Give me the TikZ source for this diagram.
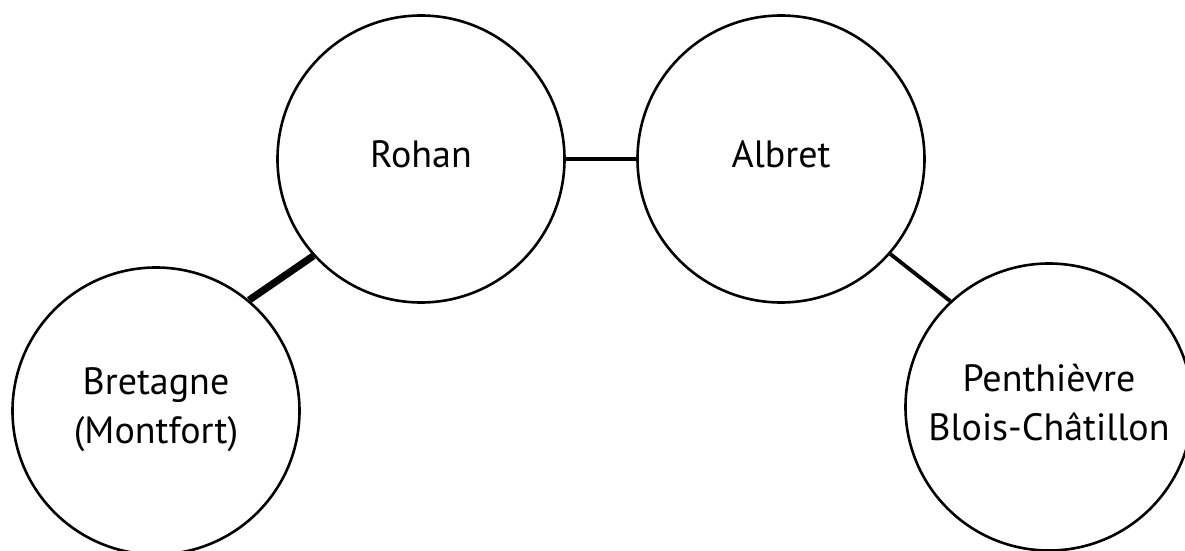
\documentclass[tikz,border=0pt]{standalone}
\usepackage{fontspec}
\setmainfont{PT Sans}
\usepackage{tikz}
\usetikzlibrary{positioning}
\newcommand{\housefont}{\fontsize{19}{24.5}\selectfont}
\tikzset{
    %Define style for houses
    house/.style={
           circle,
           draw=black, line width=1.3pt,
           minimum size=143.5pt,
           inner sep=0pt,
           text depth=5pt,
           font=\housefont,
           align=center},
    % Define styles for ties
    tie/.style={
           draw=black,
           line width=2.3pt},
    strongtie/.style={
           draw=black,
           line width=3.6pt},
    weaktie/.style={
           draw=black,
           line width=1.9pt}
}
\begin{document}
\begin{tikzpicture}[x=0.5pt,y=-0.5pt]
\useasboundingbox (0,0) rectangle (1185,551);
\clip (0,0) rectangle (1185,551);
\node[house](rohan) at (421,159){Rohan};
\node[house](albret) at (781,159){Albret};
\node[house](bretagne) at (156,411){Bretagne\\(Montfort)};
\node[house](penthievre) at (1049,407){Penthièvre\\Blois-Châtillon};
 \path
    (rohan) edge[tie] (albret)
    (rohan.222) edge[strongtie] (bretagne.50)
    (albret.319) edge[weaktie] (penthievre.133);
\end{tikzpicture}
\end{document}
